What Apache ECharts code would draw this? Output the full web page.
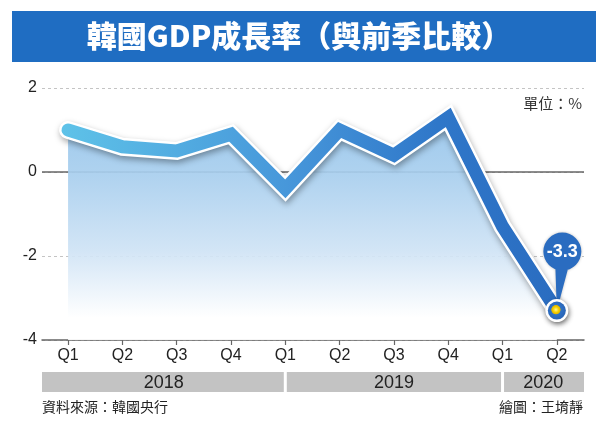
<!DOCTYPE html>
<html>
<head>
<meta charset="utf-8">
<script src="https://cdn.jsdelivr.net/npm/echarts@6/dist/echarts.min.js"></script>
<style>
html,body{margin:0;padding:0;background:#fff;}
#main{width:610px;height:431px;}
</style>
</head>
<body>
<div id="main"></div>
<script>
// ---- data ----
const quarters = ['Q1','Q2','Q3','Q4','Q1','Q2','Q3','Q4','Q1','Q2'];
const growth = [1.0, 0.6, 0.5, 0.9, -0.4, 1.0, 0.4, 1.3, -1.3, -3.3];
const years = ['2018','2019','2020'];
const yearStartIdx = [0, 4, 8];
const titleText = '韓國GDP成長率（與前季比較）';
const unitText = '單位：%';
const sourceText = '資料來源：韓國央行';
const creditText = '繪圖：王堉靜';

// ---- layout constants ----
const X_MIN = -0.48, X_MAX = 9.5;
const last = growth.length - 1;
const cjk = '"Noto Sans CJK TC", "Noto Sans CJK SC", sans-serif';

const lineData = growth.map((v, i) => [i, v]);
const bandData = years.map((y, k) => [
  k === 0 ? X_MIN : yearStartIdx[k],
  k === years.length - 1 ? X_MAX : yearStartIdx[k + 1],
  0
]);

const chart = echarts.init(document.getElementById('main'), null, {renderer: 'canvas'});

const option = {
  animation: false,
  backgroundColor: '#ffffff',
  graphic: [
    {type: 'rect', left: 12, top: 11, shape: {width: 584, height: 51}, style: {fill: '#1f6dc2'}, z: 0},
    {type: 'text', x: 299, y: 36, style: {text: titleText, fill: '#ffffff', font: '900 30px ' + cjk, align: 'center', verticalAlign: 'middle'}, z: 1},
    {type: 'text', x: 582, y: 103, style: {text: unitText, fill: '#333333', font: '15px ' + cjk, align: 'right', verticalAlign: 'middle'}},
    {type: 'text', x: 42, y: 407, style: {text: sourceText, fill: '#222222', font: '14px ' + cjk, align: 'left', verticalAlign: 'middle'}},
    {type: 'text', x: 583, y: 407, style: {text: creditText, fill: '#222222', font: '14px ' + cjk, align: 'right', verticalAlign: 'middle'}}
  ],
  grid: [
    {left: 42, right: 26, top: 88, bottom: 91},
    {left: 42, right: 26, top: 372, height: 20}
  ],
  xAxis: [
    {
      type: 'value', gridIndex: 0, min: X_MIN, max: X_MAX,
      axisLine: {show: true, onZero: false, lineStyle: {color: '#666666', width: 1.5}},
      axisTick: {show: true, customValues: quarters.map((q, i) => i), length: 5, lineStyle: {color: '#666666', width: 1.2}},
      axisLabel: {
        show: true, customValues: quarters.map((q, i) => i),
        formatter: (v) => quarters[Math.round(v)] || '',
        fontSize: 16, color: '#222222', margin: 8, fontFamily: '"Liberation Sans", Arial, sans-serif'
      },
      splitLine: {show: false}
    },
    {type: 'value', gridIndex: 1, min: X_MIN, max: X_MAX, show: false}
  ],
  yAxis: [
    {
      type: 'value', gridIndex: 0, min: -4, max: 2, interval: 2,
      axisLine: {show: false}, axisTick: {show: false},
      axisLabel: {fontSize: 16, color: '#222222', margin: 5, fontFamily: '"Liberation Sans", Arial, sans-serif'},
      splitLine: {show: true, lineStyle: {color: '#c4c4c4', type: [3, 3], width: 1}}
    },
    {type: 'value', gridIndex: 1, min: 0, max: 1, show: false}
  ],
  series: [
    {
      name: 'outline', type: 'line', xAxisIndex: 0, yAxisIndex: 0, z: 2,
      data: lineData, symbol: 'none', silent: true,
      lineStyle: {color: '#ffffff', width: 18, cap: 'round', join: 'miter',
        shadowColor: 'rgba(0,0,0,0.35)', shadowBlur: 6, shadowOffsetX: 1, shadowOffsetY: 3},
      areaStyle: {
        origin: 'start', opacity: 0.92,
        color: new echarts.graphic.LinearGradient(0, 0, 0, 1, [
          {offset: 0, color: '#95c4eb'},
          {offset: 0.27, color: '#a9cfee'},
          {offset: 0.6, color: '#cfe3f5'},
          {offset: 0.9, color: '#ffffff'},
          {offset: 1, color: '#ffffff'}
        ])
      },
      markLine: {
        z: 1, silent: true, symbol: 'none', label: {show: false},
        lineStyle: {color: '#666666', type: 'solid', width: 1.5},
        data: [{yAxis: 0}]
      }
    },
    {
      name: 'growth', type: 'line', xAxisIndex: 0, yAxisIndex: 0, z: 3,
      data: lineData, symbol: 'none', silent: true,
      lineStyle: {
        width: 13, cap: 'round', join: 'miter',
        color: new echarts.graphic.LinearGradient(0, 0, 1, 0, [
          {offset: 0, color: '#5ec2e8'},
          {offset: 0.45, color: '#4797da'},
          {offset: 0.75, color: '#2f77c9'},
          {offset: 1, color: '#2a6cc0'}
        ])
      },
      markPoint: {
        silent: true,
        data: [
          {
            coord: [last, growth[last]],
            symbol: 'path://M0,19A19,19,0,1,1,38,19A19,19,0,1,1,0,19Z M12,34L25,35L13.5,78Z',
            symbolSize: [38, 78], symbolOffset: [5.5, -39],
            itemStyle: {color: '#2a6cc0', shadowColor: 'rgba(0,0,0,0.25)', shadowBlur: 3},
            label: {
              show: true, position: 'inside', offset: [0, -20],
              formatter: () => String(growth[last]),
              color: '#ffffff', fontSize: 18, fontWeight: 'bold',
              fontFamily: '"Liberation Sans", Arial, sans-serif'
            }
          },
          {
            coord: [last, growth[last]], symbol: 'circle', symbolSize: 23,
            itemStyle: {color: '#ffffff', shadowColor: 'rgba(0,0,0,0.45)', shadowBlur: 5, shadowOffsetX: 1, shadowOffsetY: 2},
            label: {show: false}
          },
          {
            coord: [last, growth[last]], symbol: 'circle', symbolSize: 18,
            itemStyle: {
              color: new echarts.graphic.RadialGradient(0.45, 0.45, 0.5, [
                {offset: 0, color: '#fff59a'},
                {offset: 0.3, color: '#f7d200'},
                {offset: 0.48, color: '#e0b400'},
                {offset: 0.55, color: '#2f72c6'},
                {offset: 1, color: '#2a66b8'}
              ])
            },
            label: {show: false}
          }
        ]
      }
    },
    {
      name: 'years', type: 'custom', xAxisIndex: 1, yAxisIndex: 1, silent: true,
      data: bandData, encode: {x: [0, 1], y: 2},
      renderItem: function (params, api) {
        const i = params.dataIndex;
        const p0 = api.coord([api.value(0), 0]);
        const p1 = api.coord([api.value(1), 1]);
        const gl = i === 0 ? 0 : 1.5;
        const gr = i === years.length - 1 ? 0 : 1.5;
        return {
          type: 'group',
          children: [
            {type: 'rect', shape: {x: p0[0] + gl, y: p1[1], width: p1[0] - p0[0] - gl - gr, height: p0[1] - p1[1]}, style: {fill: '#c3c3c3'}},
            {type: 'text', style: {text: years[i], x: (p0[0] + p1[0]) / 2, y: (p0[1] + p1[1]) / 2 + 1, align: 'center', verticalAlign: 'middle', fill: '#222222', font: '18px "Liberation Sans", Arial, sans-serif'}}
          ]
        };
      }
    }
  ]
};
chart.setOption(option);
</script>
</body>
</html>
